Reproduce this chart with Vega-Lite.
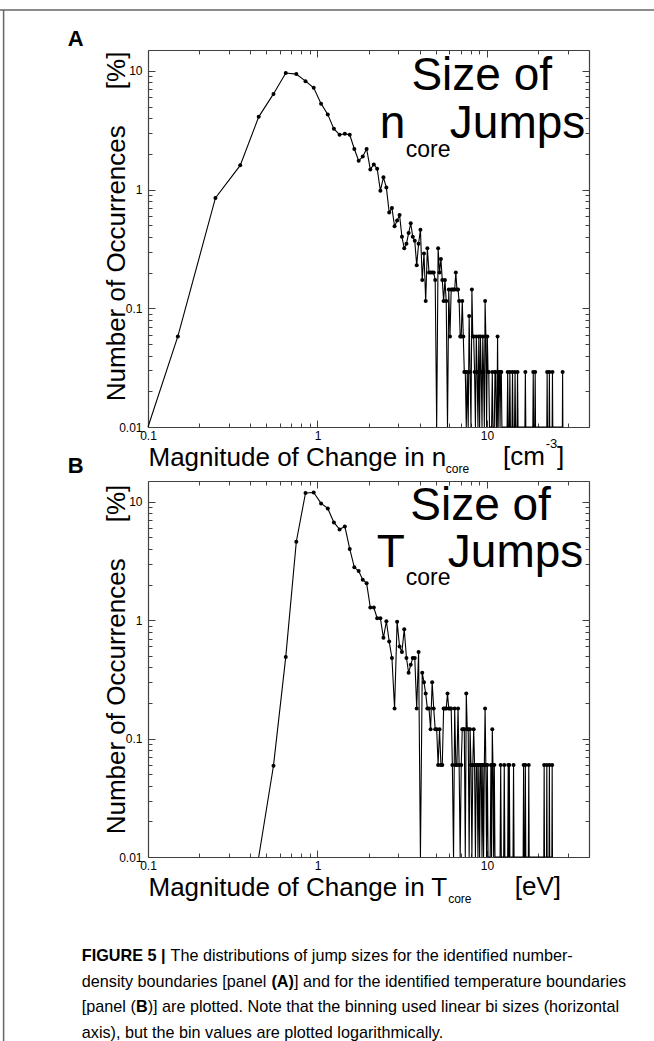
{
"$schema": "https://vega.github.io/schema/vega-lite/v6.json",
"width": 654, "height": 1041,
"autosize": {"type": "none"},
"padding": 0,
"background": "white",
"config": {"view": {"stroke": null}, "font": "Liberation Sans", "axis": {"grid": false}},
"datasets": {
"A": [{"x":0.05,"pct":0},{"x":0.15,"pct":0.058},{"x":0.25,"pct":0.85},{"x":0.35,"pct":1.6},{"x":0.45,"pct":4.1},{"x":0.55,"pct":6.4},{"x":0.65,"pct":9.6},{"x":0.75,"pct":9.4},{"x":0.85,"pct":8.2},{"x":0.95,"pct":7.2},{"x":1.05,"pct":5.3},{"x":1.15,"pct":4.3},{"x":1.25,"pct":3.25},{"x":1.35,"pct":2.9},{"x":1.45,"pct":2.95},{"x":1.55,"pct":2.9},{"x":1.65,"pct":2.2},{"x":1.75,"pct":1.75},{"x":1.85,"pct":1.9},{"x":1.95,"pct":2.2},{"x":2.05,"pct":1.48},{"x":2.15,"pct":1.63},{"x":2.25,"pct":1.5},{"x":2.35,"pct":0.98},{"x":2.45,"pct":1.27},{"x":2.55,"pct":1.04},{"x":2.65,"pct":0.64},{"x":2.75,"pct":0.7},{"x":2.85,"pct":0.49},{"x":2.95,"pct":0.55},{"x":3.05,"pct":0.61},{"x":3.15,"pct":0.4},{"x":3.25,"pct":0.32},{"x":3.35,"pct":0.35},{"x":3.45,"pct":0.43},{"x":3.55,"pct":0.52},{"x":3.65,"pct":0.4},{"x":3.75,"pct":0.37},{"x":3.85,"pct":0.23},{"x":3.95,"pct":0.35},{"x":4.05,"pct":0.46},{"x":4.15,"pct":0.173},{"x":4.25,"pct":0.29},{"x":4.35,"pct":0.115},{"x":4.45,"pct":0.32},{"x":4.55,"pct":0.2},{"x":4.65,"pct":0.2},{"x":4.75,"pct":0.2},{"x":4.85,"pct":0.2},{"x":4.95,"pct":0.173},{"x":5.05,"pct":0},{"x":5.15,"pct":0.32},{"x":5.25,"pct":0.2},{"x":5.35,"pct":0.26},{"x":5.45,"pct":0.173},{"x":5.55,"pct":0.115},{"x":5.65,"pct":0.173},{"x":5.75,"pct":0.115},{"x":5.85,"pct":0},{"x":5.95,"pct":0.144},{"x":6.05,"pct":0.058},{"x":6.15,"pct":0.144},{"x":6.25,"pct":0.144},{"x":6.35,"pct":0.144},{"x":6.45,"pct":0.144},{"x":6.55,"pct":0.2},{"x":6.65,"pct":0.144},{"x":6.75,"pct":0.144},{"x":6.85,"pct":0.115},{"x":6.95,"pct":0.058},{"x":7.05,"pct":0.058},{"x":7.15,"pct":0.115},{"x":7.25,"pct":0.058},{"x":7.35,"pct":0.029},{"x":7.45,"pct":0.029},{"x":7.55,"pct":0},{"x":7.65,"pct":0.029},{"x":7.75,"pct":0},{"x":7.85,"pct":0.086},{"x":7.95,"pct":0.029},{"x":8.05,"pct":0},{"x":8.15,"pct":0.144},{"x":8.25,"pct":0.058},{"x":8.35,"pct":0.058},{"x":8.45,"pct":0.029},{"x":8.55,"pct":0},{"x":8.65,"pct":0.058},{"x":8.75,"pct":0.029},{"x":8.85,"pct":0},{"x":8.95,"pct":0.058},{"x":9.05,"pct":0},{"x":9.15,"pct":0.058},{"x":9.25,"pct":0.029},{"x":9.35,"pct":0},{"x":9.45,"pct":0.058},{"x":9.55,"pct":0.029},{"x":9.65,"pct":0},{"x":9.75,"pct":0.115},{"x":9.85,"pct":0.058},{"x":9.95,"pct":0},{"x":10.05,"pct":0.058},{"x":10.15,"pct":0.029},{"x":10.25,"pct":0.029},{"x":10.35,"pct":0},{"x":10.65,"pct":0},{"x":10.75,"pct":0.029},{"x":10.85,"pct":0},{"x":11.05,"pct":0},{"x":11.15,"pct":0.029},{"x":11.25,"pct":0.029},{"x":11.35,"pct":0},{"x":11.45,"pct":0},{"x":11.55,"pct":0.058},{"x":11.65,"pct":0},{"x":11.75,"pct":0.029},{"x":11.85,"pct":0.029},{"x":11.95,"pct":0},{"x":12.05,"pct":0.029},{"x":12.15,"pct":0.029},{"x":12.25,"pct":0},{"x":13.15,"pct":0},{"x":13.25,"pct":0.029},{"x":13.35,"pct":0},{"x":13.55,"pct":0},{"x":13.65,"pct":0.029},{"x":13.75,"pct":0},{"x":14.05,"pct":0},{"x":14.15,"pct":0.029},{"x":14.25,"pct":0},{"x":14.55,"pct":0},{"x":14.65,"pct":0.029},{"x":14.75,"pct":0},{"x":15.05,"pct":0},{"x":15.15,"pct":0.029},{"x":15.25,"pct":0},{"x":16.75,"pct":0},{"x":16.85,"pct":0.029},{"x":16.95,"pct":0},{"x":18.65,"pct":0},{"x":18.75,"pct":0.029},{"x":18.85,"pct":0},{"x":19.15,"pct":0},{"x":19.25,"pct":0.029},{"x":19.35,"pct":0},{"x":22.55,"pct":0},{"x":22.65,"pct":0.029},{"x":22.75,"pct":0},{"x":23.25,"pct":0},{"x":23.35,"pct":0.029},{"x":23.45,"pct":0},{"x":24.25,"pct":0},{"x":24.35,"pct":0.029},{"x":24.45,"pct":0},{"x":27.85,"pct":0},{"x":27.95,"pct":0.029},{"x":28.05,"pct":0}],
"B": [{"x":0.45,"pct":0},{"x":0.55,"pct":0.059},{"x":0.65,"pct":0.49},{"x":0.75,"pct":4.6},{"x":0.85,"pct":11.9},{"x":0.95,"pct":12.0},{"x":1.05,"pct":9.7},{"x":1.15,"pct":8.8},{"x":1.25,"pct":6.7},{"x":1.35,"pct":5.85},{"x":1.45,"pct":6.2},{"x":1.55,"pct":4.0},{"x":1.65,"pct":2.8},{"x":1.75,"pct":2.6},{"x":1.85,"pct":2.2},{"x":1.95,"pct":2.05},{"x":2.05,"pct":1.28},{"x":2.15,"pct":1.28},{"x":2.25,"pct":1.04},{"x":2.35,"pct":1.04},{"x":2.45,"pct":0.71},{"x":2.55,"pct":0.98},{"x":2.65,"pct":0.66},{"x":2.75,"pct":0.48},{"x":2.85,"pct":0.18},{"x":2.95,"pct":0.97},{"x":3.05,"pct":0.6},{"x":3.15,"pct":0.54},{"x":3.25,"pct":0.84},{"x":3.35,"pct":0.48},{"x":3.45,"pct":0.36},{"x":3.55,"pct":0.42},{"x":3.65,"pct":0.48},{"x":3.75,"pct":0.48},{"x":3.85,"pct":0.18},{"x":3.95,"pct":0.54},{"x":4.05,"pct":0},{"x":4.15,"pct":0.36},{"x":4.25,"pct":0.3},{"x":4.35,"pct":0.24},{"x":4.45,"pct":0.18},{"x":4.55,"pct":0.18},{"x":4.65,"pct":0.12},{"x":4.75,"pct":0.3},{"x":4.85,"pct":0.18},{"x":4.95,"pct":0.12},{"x":5.05,"pct":0.12},{"x":5.15,"pct":0.06},{"x":5.25,"pct":0.12},{"x":5.35,"pct":0.06},{"x":5.45,"pct":0.06},{"x":5.55,"pct":0.18},{"x":5.65,"pct":0.18},{"x":5.75,"pct":0.18},{"x":5.85,"pct":0.24},{"x":5.95,"pct":0.18},{"x":6.05,"pct":0.18},{"x":6.15,"pct":0.18},{"x":6.25,"pct":0.06},{"x":6.35,"pct":0},{"x":6.45,"pct":0.18},{"x":6.55,"pct":0.06},{"x":6.65,"pct":0.06},{"x":6.75,"pct":0.18},{"x":6.85,"pct":0.06},{"x":6.95,"pct":0},{"x":7.05,"pct":0.06},{"x":7.15,"pct":0.12},{"x":7.25,"pct":0.12},{"x":7.35,"pct":0.12},{"x":7.45,"pct":0},{"x":7.55,"pct":0.24},{"x":7.65,"pct":0.12},{"x":7.75,"pct":0.12},{"x":7.85,"pct":0},{"x":7.95,"pct":0.12},{"x":8.05,"pct":0.06},{"x":8.15,"pct":0},{"x":8.25,"pct":0.06},{"x":8.35,"pct":0.12},{"x":8.45,"pct":0.06},{"x":8.55,"pct":0},{"x":8.65,"pct":0.06},{"x":8.75,"pct":0.06},{"x":8.85,"pct":0},{"x":8.95,"pct":0.06},{"x":9.05,"pct":0},{"x":9.15,"pct":0.06},{"x":9.25,"pct":0.06},{"x":9.35,"pct":0},{"x":9.45,"pct":0.06},{"x":9.55,"pct":0},{"x":9.65,"pct":0.06},{"x":9.75,"pct":0.18},{"x":9.85,"pct":0.06},{"x":9.95,"pct":0},{"x":10.05,"pct":0.06},{"x":10.15,"pct":0},{"x":10.45,"pct":0},{"x":10.55,"pct":0.06},{"x":10.65,"pct":0},{"x":10.75,"pct":0.12},{"x":10.85,"pct":0.06},{"x":10.95,"pct":0},{"x":11.05,"pct":0.06},{"x":11.15,"pct":0},{"x":11.95,"pct":0},{"x":12.05,"pct":0.06},{"x":12.15,"pct":0},{"x":12.55,"pct":0},{"x":12.65,"pct":0.06},{"x":12.75,"pct":0},{"x":13.25,"pct":0},{"x":13.35,"pct":0.06},{"x":13.45,"pct":0},{"x":13.55,"pct":0.06},{"x":13.65,"pct":0},{"x":14.25,"pct":0},{"x":14.35,"pct":0.06},{"x":14.45,"pct":0},{"x":16.35,"pct":0},{"x":16.45,"pct":0.06},{"x":16.55,"pct":0},{"x":16.75,"pct":0},{"x":16.85,"pct":0.06},{"x":16.95,"pct":0},{"x":17.55,"pct":0},{"x":17.65,"pct":0.06},{"x":17.75,"pct":0},{"x":21.65,"pct":0},{"x":21.75,"pct":0.06},{"x":21.85,"pct":0},{"x":22.45,"pct":0},{"x":22.55,"pct":0.06},{"x":22.65,"pct":0},{"x":23.25,"pct":0},{"x":23.35,"pct":0.06},{"x":23.45,"pct":0},{"x":24.15,"pct":0},{"x":24.25,"pct":0.06},{"x":24.35,"pct":0}]
},
"layer": [
{"data": {"name": "A"},
 "mark": {"type": "line", "color": "black", "strokeWidth": 1.1},
 "encoding": {
  "x": {"field": "x", "type": "quantitative",
        "scale": {"type": "log", "domain": [0.1, 40], "range": [148, 589], "clamp": true, "nice": false},
        "axis": {"orient": "bottom", "offset": -614, "values": [0.1,0.2,0.3,0.4,0.5,0.6,0.7,0.8,0.9,1,2,3,4,5,6,7,8,9,10,20,30,40],
                 "labelExpr": "datum.value==0.1?'0.1':datum.value==1?'1':datum.value==10?'10':''",
                 "tickSize": {"condition": {"test": "datum.value==0.1||datum.value==1||datum.value==10", "value": -7}, "value": -4},
                 "domainColor": "#404040", "domainWidth": 1.2, "tickColor": "#404040", "labelColor": "black", "labelFont": "Liberation Sans", "labelFontSize": 12,
                 "labelOverlap": false, "labelFlush": false, "labelBaseline": "top", "labelPadding": 10,
                 "title": "Magnitude of Change in n", "titleFont": "Liberation Sans", "titleFontSize": 26, "titleFontWeight": "normal", "titleColor": "black",
                 "titleAlign": "left", "titleBaseline": "alphabetic", "titleX": 148, "titleY": 38.3}},
  "y": {"field": "pct", "type": "quantitative",
        "scale": {"type": "log", "domain": [0.01, 15], "range": [427, 50], "clamp": true, "nice": false},
        "axis": {"orient": "left", "offset": -148, "values": [0.01,0.02,0.03,0.04,0.05,0.06,0.07,0.08,0.09,0.1,0.2,0.3,0.4,0.5,0.6,0.7,0.8,0.9,1,2,3,4,5,6,7,8,9,10],
                 "labelExpr": "datum.value==0.01?'0.01':datum.value==0.1?'0.1':datum.value==1?'1':datum.value==10?'10':''",
                 "tickSize": {"condition": {"test": "datum.value==0.01||datum.value==0.1||datum.value==1||datum.value==10", "value": -7}, "value": -4},
                 "domainColor": "#404040", "domainWidth": 1.2, "tickColor": "#404040", "labelColor": "black", "labelFont": "Liberation Sans", "labelFontSize": 12,
                 "labelOverlap": false, "labelFlush": false, "labelAlign": "right", "labelBaseline": "middle", "labelPadding": 13,
                 "title": "Number of Occurrences\u00a0\u00a0\u00a0\u00a0\u00a0[%]", "titleFont": "Liberation Sans", "titleFontSize": 26, "titleFontWeight": "normal", "titleColor": "black",
                 "titleAngle": 270, "titleAlign": "center", "titleBaseline": "alphabetic", "titleX": -24, "titleY": 225.9}}
 }},
{"data": {"name": "A"},
 "transform": [{"filter": "datum.pct > 0"}],
 "mark": {"type": "point", "filled": true, "color": "black", "size": 16, "opacity": 1},
 "encoding": {
  "x": {"field": "x", "type": "quantitative",
        "scale": {"type": "log", "domain": [0.1, 40], "range": [148, 589], "clamp": true, "nice": false},
        "axis": {"orient": "top", "offset": -50, "values": [0.1,0.2,0.3,0.4,0.5,0.6,0.7,0.8,0.9,1,2,3,4,5,6,7,8,9,10,20,30,40], "labels": false, "title": null,
                 "tickSize": {"condition": {"test": "datum.value==0.1||datum.value==1||datum.value==10", "value": -7}, "value": -4},
                 "domainColor": "#404040", "domainWidth": 1.2, "tickColor": "#404040"}},
  "y": {"field": "pct", "type": "quantitative",
        "scale": {"type": "log", "domain": [0.01, 15], "range": [427, 50], "clamp": true, "nice": false},
        "axis": {"orient": "right", "offset": -65, "values": [0.01,0.02,0.03,0.04,0.05,0.06,0.07,0.08,0.09,0.1,0.2,0.3,0.4,0.5,0.6,0.7,0.8,0.9,1,2,3,4,5,6,7,8,9,10], "labels": false, "title": null,
                 "tickSize": {"condition": {"test": "datum.value==0.01||datum.value==0.1||datum.value==1||datum.value==10", "value": -7}, "value": -4},
                 "domainColor": "#404040", "domainWidth": 1.2, "tickColor": "#404040"}}
 }},
{"data": {"name": "B"},
 "mark": {"type": "line", "color": "black", "strokeWidth": 1.1},
 "encoding": {
  "x": {"field": "x", "type": "quantitative",
        "scale": {"type": "log", "domain": [0.1, 40], "range": [148, 589], "clamp": true, "nice": false},
        "axis": {"orient": "bottom", "offset": -184, "values": [0.1,0.2,0.3,0.4,0.5,0.6,0.7,0.8,0.9,1,2,3,4,5,6,7,8,9,10,20,30,40],
                 "labelExpr": "datum.value==0.1?'0.1':datum.value==1?'1':datum.value==10?'10':''",
                 "tickSize": {"condition": {"test": "datum.value==0.1||datum.value==1||datum.value==10", "value": -7}, "value": -4},
                 "domainColor": "#404040", "domainWidth": 1.2, "tickColor": "#404040", "labelColor": "black", "labelFont": "Liberation Sans", "labelFontSize": 12,
                 "labelOverlap": false, "labelFlush": false, "labelBaseline": "top", "labelPadding": 10,
                 "title": "Magnitude of Change in T", "titleFont": "Liberation Sans", "titleFontSize": 26, "titleFontWeight": "normal", "titleColor": "black",
                 "titleAlign": "left", "titleBaseline": "alphabetic", "titleX": 148, "titleY": 38.3}},
  "y": {"field": "pct", "type": "quantitative",
        "scale": {"type": "log", "domain": [0.01, 15], "range": [857, 481], "clamp": true, "nice": false},
        "axis": {"orient": "left", "offset": -148, "values": [0.01,0.02,0.03,0.04,0.05,0.06,0.07,0.08,0.09,0.1,0.2,0.3,0.4,0.5,0.6,0.7,0.8,0.9,1,2,3,4,5,6,7,8,9,10],
                 "labelExpr": "datum.value==0.01?'0.01':datum.value==0.1?'0.1':datum.value==1?'1':datum.value==10?'10':''",
                 "tickSize": {"condition": {"test": "datum.value==0.01||datum.value==0.1||datum.value==1||datum.value==10", "value": -7}, "value": -4},
                 "domainColor": "#404040", "domainWidth": 1.2, "tickColor": "#404040", "labelColor": "black", "labelFont": "Liberation Sans", "labelFontSize": 12,
                 "labelOverlap": false, "labelFlush": false, "labelAlign": "right", "labelBaseline": "middle", "labelPadding": 13,
                 "title": "Number of Occurrences\u00a0\u00a0\u00a0\u00a0\u00a0[%]", "titleFont": "Liberation Sans", "titleFontSize": 26, "titleFontWeight": "normal", "titleColor": "black",
                 "titleAngle": 270, "titleAlign": "center", "titleBaseline": "alphabetic", "titleX": -24, "titleY": 659}}
 }},
{"data": {"name": "B"},
 "transform": [{"filter": "datum.pct > 0"}],
 "mark": {"type": "point", "filled": true, "color": "black", "size": 16, "opacity": 1},
 "encoding": {
  "x": {"field": "x", "type": "quantitative",
        "scale": {"type": "log", "domain": [0.1, 40], "range": [148, 589], "clamp": true, "nice": false},
        "axis": {"orient": "top", "offset": -481, "values": [0.1,0.2,0.3,0.4,0.5,0.6,0.7,0.8,0.9,1,2,3,4,5,6,7,8,9,10,20,30,40], "labels": false, "title": null,
                 "tickSize": {"condition": {"test": "datum.value==0.1||datum.value==1||datum.value==10", "value": -7}, "value": -4},
                 "domainColor": "#404040", "domainWidth": 1.2, "tickColor": "#404040"}},
  "y": {"field": "pct", "type": "quantitative",
        "scale": {"type": "log", "domain": [0.01, 15], "range": [857, 481], "clamp": true, "nice": false},
        "axis": {"orient": "right", "offset": -65, "values": [0.01,0.02,0.03,0.04,0.05,0.06,0.07,0.08,0.09,0.1,0.2,0.3,0.4,0.5,0.6,0.7,0.8,0.9,1,2,3,4,5,6,7,8,9,10], "labels": false, "title": null,
                 "tickSize": {"condition": {"test": "datum.value==0.01||datum.value==0.1||datum.value==1||datum.value==10", "value": -7}, "value": -4},
                 "domainColor": "#404040", "domainWidth": 1.2, "tickColor": "#404040"}}
 }},
{"data": {"values": [{}]}, "mark": {"type": "rule", "color": "#666666", "strokeWidth": 1.5},
 "encoding": {"y": {"datum": 32.6, "type": "quantitative", "scale": {"type": "log", "domain": [0.01, 15], "range": [427, 50], "nice": false}, "axis": null}}},
{"data": {"values": [{}]}, "mark": {"type": "rule", "color": "#666666", "strokeWidth": 1.5},
 "encoding": {"x": {"datum": 0.01406, "type": "quantitative", "scale": {"type": "log", "domain": [0.1, 40], "range": [148, 589], "nice": false}, "axis": null},
              "y": {"datum": 142700, "type": "quantitative", "scale": {"type": "log", "domain": [0.01, 15], "range": [857, 481], "nice": false}, "axis": null},
              "y2": {"datum": 0.000279}}},
{"data": {"values": [{}]}, "mark": {"type": "text", "text": "A", "font": "Liberation Sans", "fontSize": 22, "fontWeight": "bold", "align": "left", "baseline": "alphabetic", "color": "black"},
 "encoding": {"x": {"datum": 0.03363, "type": "quantitative", "scale": {"type": "log", "domain": [0.1, 40], "range": [148, 589], "nice": false}, "axis": null},
              "y": {"datum": 16.21, "type": "quantitative", "scale": {"type": "log", "domain": [0.01, 15], "range": [427, 50], "nice": false}, "axis": null}}},
{"data": {"values": [{}]}, "mark": {"type": "text", "text": "Size of", "font": "Liberation Sans", "fontSize": 46, "align": "left", "baseline": "alphabetic", "color": "black"},
 "encoding": {"x": {"datum": 3.584, "type": "quantitative", "scale": {"type": "log", "domain": [0.1, 40], "range": [148, 589], "nice": false}, "axis": null},
              "y": {"datum": 6.905, "type": "quantitative", "scale": {"type": "log", "domain": [0.01, 15], "range": [427, 50], "nice": false}, "axis": null}}},
{"data": {"values": [{}]}, "mark": {"type": "text", "text": "n", "font": "Liberation Sans", "fontSize": 46, "align": "left", "baseline": "alphabetic", "color": "black"},
 "encoding": {"x": {"datum": 2.327, "type": "quantitative", "scale": {"type": "log", "domain": [0.1, 40], "range": [148, 589], "nice": false}, "axis": null},
              "y": {"datum": 2.705, "type": "quantitative", "scale": {"type": "log", "domain": [0.01, 15], "range": [427, 50], "nice": false}, "axis": null}}},
{"data": {"values": [{}]}, "mark": {"type": "text", "text": "core", "font": "Liberation Sans", "fontSize": 23, "align": "left", "baseline": "alphabetic", "color": "black"},
 "encoding": {"x": {"datum": 3.317, "type": "quantitative", "scale": {"type": "log", "domain": [0.1, 40], "range": [148, 589], "nice": false}, "axis": null},
              "y": {"datum": 1.893, "type": "quantitative", "scale": {"type": "log", "domain": [0.01, 15], "range": [427, 50], "nice": false}, "axis": null}}},
{"data": {"values": [{}]}, "mark": {"type": "text", "text": "Jumps", "font": "Liberation Sans", "fontSize": 46, "align": "left", "baseline": "alphabetic", "color": "black"},
 "encoding": {"x": {"datum": 6.04, "type": "quantitative", "scale": {"type": "log", "domain": [0.1, 40], "range": [148, 589], "nice": false}, "axis": null},
              "y": {"datum": 2.705, "type": "quantitative", "scale": {"type": "log", "domain": [0.01, 15], "range": [427, 50], "nice": false}, "axis": null}}},
{"data": {"values": [{}]}, "mark": {"type": "text", "text": "core", "font": "Liberation Sans", "fontSize": 12, "align": "left", "baseline": "alphabetic", "color": "black"},
 "encoding": {"x": {"datum": 5.72, "type": "quantitative", "scale": {"type": "log", "domain": [0.1, 40], "range": [148, 589], "nice": false}, "axis": null},
              "y": {"datum": 0.0041, "type": "quantitative", "scale": {"type": "log", "domain": [0.01, 15], "range": [427, 50], "nice": false}, "axis": null}}},
{"data": {"values": [{}]}, "mark": {"type": "text", "text": "[cm", "font": "Liberation Sans", "fontSize": 26, "align": "left", "baseline": "alphabetic", "color": "black"},
 "encoding": {"x": {"datum": 12.43, "type": "quantitative", "scale": {"type": "log", "domain": [0.1, 40], "range": [148, 589], "nice": false}, "axis": null},
              "y": {"datum": 0.004756, "type": "quantitative", "scale": {"type": "log", "domain": [0.01, 15], "range": [427, 50], "nice": false}, "axis": null}}},
{"data": {"values": [{}]}, "mark": {"type": "text", "text": "-3", "font": "Liberation Sans", "fontSize": 13, "align": "left", "baseline": "alphabetic", "color": "black"},
 "encoding": {"x": {"datum": 22.2, "type": "quantitative", "scale": {"type": "log", "domain": [0.1, 40], "range": [148, 589], "nice": false}, "axis": null},
              "y": {"datum": 0.006652, "type": "quantitative", "scale": {"type": "log", "domain": [0.01, 15], "range": [427, 50], "nice": false}, "axis": null}}},
{"data": {"values": [{}]}, "mark": {"type": "text", "text": "]", "font": "Liberation Sans", "fontSize": 26, "align": "left", "baseline": "alphabetic", "color": "black"},
 "encoding": {"x": {"datum": 25.9, "type": "quantitative", "scale": {"type": "log", "domain": [0.1, 40], "range": [148, 589], "nice": false}, "axis": null},
              "y": {"datum": 0.004756, "type": "quantitative", "scale": {"type": "log", "domain": [0.01, 15], "range": [427, 50], "nice": false}, "axis": null}}},
{"data": {"values": [{}]}, "mark": {"type": "text", "text": "B", "font": "Liberation Sans", "fontSize": 22, "fontWeight": "bold", "align": "left", "baseline": "alphabetic", "color": "black"},
 "encoding": {"x": {"datum": 0.03363, "type": "quantitative", "scale": {"type": "log", "domain": [0.1, 40], "range": [148, 589], "nice": false}, "axis": null},
              "y": {"datum": 17.53, "type": "quantitative", "scale": {"type": "log", "domain": [0.01, 15], "range": [857, 481], "nice": false}, "axis": null}}},
{"data": {"values": [{}]}, "mark": {"type": "text", "text": "Size of", "font": "Liberation Sans", "fontSize": 46, "align": "left", "baseline": "alphabetic", "color": "black"},
 "encoding": {"x": {"datum": 3.526, "type": "quantitative", "scale": {"type": "log", "domain": [0.1, 40], "range": [148, 589], "nice": false}, "axis": null},
              "y": {"datum": 7.028, "type": "quantitative", "scale": {"type": "log", "domain": [0.01, 15], "range": [857, 481], "nice": false}, "axis": null}}},
{"data": {"values": [{}]}, "mark": {"type": "text", "text": "T", "font": "Liberation Sans", "fontSize": 46, "align": "left", "baseline": "alphabetic", "color": "black"},
 "encoding": {"x": {"datum": 2.234, "type": "quantitative", "scale": {"type": "log", "domain": [0.1, 40], "range": [148, 589], "nice": false}, "axis": null},
              "y": {"datum": 2.834, "type": "quantitative", "scale": {"type": "log", "domain": [0.01, 15], "range": [857, 481], "nice": false}, "axis": null}}},
{"data": {"values": [{}]}, "mark": {"type": "text", "text": "core", "font": "Liberation Sans", "fontSize": 23, "align": "left", "baseline": "alphabetic", "color": "black"},
 "encoding": {"x": {"datum": 3.317, "type": "quantitative", "scale": {"type": "log", "domain": [0.1, 40], "range": [148, 589], "nice": false}, "axis": null},
              "y": {"datum": 1.985, "type": "quantitative", "scale": {"type": "log", "domain": [0.01, 15], "range": [857, 481], "nice": false}, "axis": null}}},
{"data": {"values": [{}]}, "mark": {"type": "text", "text": "Jumps", "font": "Liberation Sans", "fontSize": 46, "align": "left", "baseline": "alphabetic", "color": "black"},
 "encoding": {"x": {"datum": 5.877, "type": "quantitative", "scale": {"type": "log", "domain": [0.1, 40], "range": [148, 589], "nice": false}, "axis": null},
              "y": {"datum": 2.834, "type": "quantitative", "scale": {"type": "log", "domain": [0.01, 15], "range": [857, 481], "nice": false}, "axis": null}}},
{"data": {"values": [{}]}, "mark": {"type": "text", "text": "core", "font": "Liberation Sans", "fontSize": 12, "align": "left", "baseline": "alphabetic", "color": "black"},
 "encoding": {"x": {"datum": 5.9, "type": "quantitative", "scale": {"type": "log", "domain": [0.1, 40], "range": [148, 589], "nice": false}, "axis": null},
              "y": {"datum": 0.004087, "type": "quantitative", "scale": {"type": "log", "domain": [0.01, 15], "range": [857, 481], "nice": false}, "axis": null}}},
{"data": {"values": [{}]}, "mark": {"type": "text", "text": "[eV]", "font": "Liberation Sans", "fontSize": 26, "align": "left", "baseline": "alphabetic", "color": "black"},
 "encoding": {"x": {"datum": 14.6, "type": "quantitative", "scale": {"type": "log", "domain": [0.1, 40], "range": [148, 589], "nice": false}, "axis": null},
              "y": {"datum": 0.004748, "type": "quantitative", "scale": {"type": "log", "domain": [0.01, 15], "range": [857, 481], "nice": false}, "axis": null}}},
{"data": {"values": [{}]}, "mark": {"type": "text", "text": "FIGURE 5 |", "font": "Liberation Sans", "fontSize": 16.2, "fontWeight": "bold", "align": "left", "baseline": "alphabetic", "color": "black"},
 "encoding": {"x": {"datum": 0.04069, "type": "quantitative", "scale": {"type": "log", "domain": [0.1, 40], "range": [148, 589], "nice": false}, "axis": null},
              "y": {"datum": 0.001323, "type": "quantitative", "scale": {"type": "log", "domain": [0.01, 15], "range": [857, 481], "nice": false}, "axis": null}}},
{"data": {"values": [{}]}, "mark": {"type": "text", "text": "The distributions of jump sizes for the identified number-", "font": "Liberation Sans", "fontSize": 16.2, "align": "left", "baseline": "alphabetic", "color": "black"},
 "encoding": {"x": {"datum": 0.1358, "type": "quantitative", "scale": {"type": "log", "domain": [0.1, 40], "range": [148, 589], "nice": false}, "axis": null},
              "y": {"datum": 0.001323, "type": "quantitative", "scale": {"type": "log", "domain": [0.01, 15], "range": [857, 481], "nice": false}, "axis": null}}},
{"data": {"values": [{}]}, "mark": {"type": "text", "text": "density boundaries [panel", "font": "Liberation Sans", "fontSize": 16.2, "align": "left", "baseline": "alphabetic", "color": "black"},
 "encoding": {"x": {"datum": 0.04069, "type": "quantitative", "scale": {"type": "log", "domain": [0.1, 40], "range": [148, 589], "nice": false}, "axis": null},
              "y": {"datum": 0.0008054, "type": "quantitative", "scale": {"type": "log", "domain": [0.01, 15], "range": [857, 481], "nice": false}, "axis": null}}},
{"data": {"values": [{}]}, "mark": {"type": "text", "text": "(A)", "font": "Liberation Sans", "fontSize": 16.2, "fontWeight": "bold", "align": "left", "baseline": "alphabetic", "color": "black"},
 "encoding": {"x": {"datum": 0.5352, "type": "quantitative", "scale": {"type": "log", "domain": [0.1, 40], "range": [148, 589], "nice": false}, "axis": null},
              "y": {"datum": 0.0008054, "type": "quantitative", "scale": {"type": "log", "domain": [0.01, 15], "range": [857, 481], "nice": false}, "axis": null}}},
{"data": {"values": [{}]}, "mark": {"type": "text", "text": "] and for the identified temperature boundaries", "font": "Liberation Sans", "fontSize": 16.2, "align": "left", "baseline": "alphabetic", "color": "black"},
 "encoding": {"x": {"datum": 0.7271, "type": "quantitative", "scale": {"type": "log", "domain": [0.1, 40], "range": [148, 589], "nice": false}, "axis": null},
              "y": {"datum": 0.0008054, "type": "quantitative", "scale": {"type": "log", "domain": [0.01, 15], "range": [857, 481], "nice": false}, "axis": null}}},
{"data": {"values": [{}]}, "mark": {"type": "text", "text": "[panel (", "font": "Liberation Sans", "fontSize": 16.2, "align": "left", "baseline": "alphabetic", "color": "black"},
 "encoding": {"x": {"datum": 0.04069, "type": "quantitative", "scale": {"type": "log", "domain": [0.1, 40], "range": [148, 589], "nice": false}, "axis": null},
              "y": {"datum": 0.0004906, "type": "quantitative", "scale": {"type": "log", "domain": [0.01, 15], "range": [857, 481], "nice": false}, "axis": null}}},
{"data": {"values": [{}]}, "mark": {"type": "text", "text": "B", "font": "Liberation Sans", "fontSize": 16.2, "fontWeight": "bold", "align": "left", "baseline": "alphabetic", "color": "black"},
 "encoding": {"x": {"datum": 0.08493, "type": "quantitative", "scale": {"type": "log", "domain": [0.1, 40], "range": [148, 589], "nice": false}, "axis": null},
              "y": {"datum": 0.0004906, "type": "quantitative", "scale": {"type": "log", "domain": [0.01, 15], "range": [857, 481], "nice": false}, "axis": null}}},
{"data": {"values": [{}]}, "mark": {"type": "text", "text": ")] are plotted. Note that the binning used linear bi sizes (horizontal", "font": "Liberation Sans", "fontSize": 16.2, "align": "left", "baseline": "alphabetic", "color": "black"},
 "encoding": {"x": {"datum": 0.0996, "type": "quantitative", "scale": {"type": "log", "domain": [0.1, 40], "range": [148, 589], "nice": false}, "axis": null},
              "y": {"datum": 0.0004906, "type": "quantitative", "scale": {"type": "log", "domain": [0.01, 15], "range": [857, 481], "nice": false}, "axis": null}}},
{"data": {"values": [{}]}, "mark": {"type": "text", "text": "axis), but the bin values are plotted logarithmically.", "font": "Liberation Sans", "fontSize": 16.2, "align": "left", "baseline": "alphabetic", "color": "black"},
 "encoding": {"x": {"datum": 0.04069, "type": "quantitative", "scale": {"type": "log", "domain": [0.1, 40], "range": [148, 589], "nice": false}, "axis": null},
              "y": {"datum": 0.0002987, "type": "quantitative", "scale": {"type": "log", "domain": [0.01, 15], "range": [857, 481], "nice": false}, "axis": null}}}
],
"resolve": {"scale": {"x": "independent", "y": "independent"}, "axis": {"x": "independent", "y": "independent"}}
}
